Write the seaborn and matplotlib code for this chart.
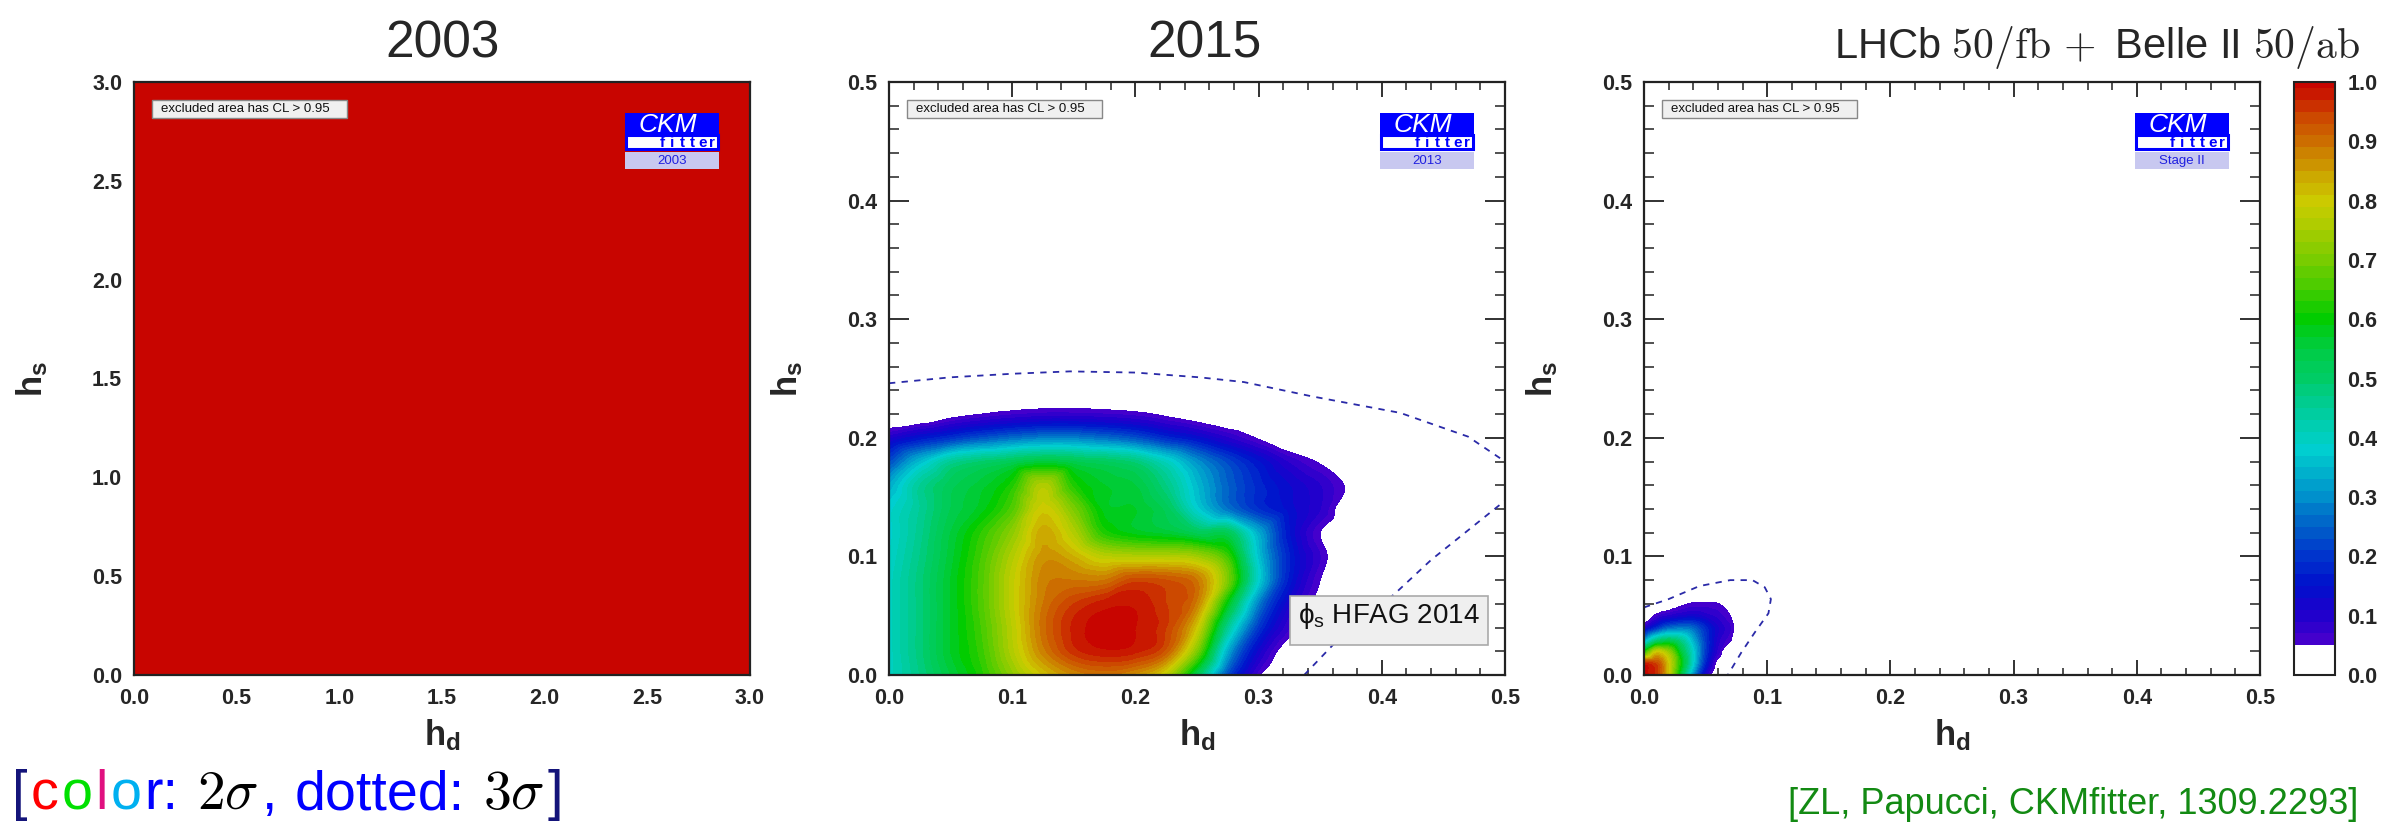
import numpy as np
import matplotlib
matplotlib.use("Agg")
import matplotlib.pyplot as plt
import matplotlib.tri as mtri
import seaborn as sns
from matplotlib.colors import LinearSegmentedColormap, ListedColormap, BoundaryNorm
from matplotlib.patches import Rectangle
from matplotlib.cm import ScalarMappable

# ---------------------------------------------------------------- data
titles = ["2003", "2015", r"LHCb $50/\mathrm{fb}\,+$ Belle II $50/\mathrm{ab}$"]
logo_labels = ["2003", "2013", "Stage II"]
legend_text = "excluded area has CL > 0.95"
hfag_text = "\u03d5${}_{\\mathrm{s}}$ HFAG 2014"
credit_text = "[ZL, Papucci, CKMfitter, 1309.2293]"

# panel 1 (2003): the whole plane is allowed (CL = 1)
hd_2003 = [0.0, 3.0]
hs_2003 = [0.0, 3.0]
cl_2003 = [[1.0, 1.0],
           [1.0, 1.0]]

# panel 2 (2015): CL read on a grid
hd_2015 = [0.0, 0.025, 0.05, 0.075, 0.1, 0.125, 0.15, 0.175, 0.2, 0.225,
           0.25, 0.275, 0.3, 0.325, 0.35, 0.375, 0.4]
hs_2015 = [0.0, 0.02, 0.04, 0.06, 0.08, 0.10, 0.12, 0.14, 0.16, 0.18,
           0.20, 0.22, 0.24]
cl_2015 = [
    [0.40, 0.47, 0.55, 0.62, 0.72, 0.81, 0.87, 0.89, 0.86, 0.77, 0.52, 0.22, 0.055, 0.00, 0.00, 0.00, 0.00],
    [0.40, 0.48, 0.57, 0.64, 0.76, 0.88, 0.96, 0.985, 0.975, 0.92, 0.70, 0.33, 0.12, 0.02, 0.00, 0.00, 0.00],
    [0.40, 0.48, 0.57, 0.65, 0.77, 0.90, 0.975, 1.00, 0.99, 0.95, 0.80, 0.45, 0.20, 0.07, 0.00, 0.00, 0.00],
    [0.40, 0.48, 0.57, 0.66, 0.78, 0.89, 0.95, 0.98, 0.985, 0.95, 0.88, 0.58, 0.28, 0.11, 0.03, 0.00, 0.00],
    [0.40, 0.48, 0.57, 0.66, 0.78, 0.88, 0.89, 0.89, 0.94, 0.93, 0.89, 0.70, 0.38, 0.16, 0.05, 0.00, 0.00],
    [0.39, 0.47, 0.56, 0.65, 0.76, 0.86, 0.83, 0.77, 0.76, 0.76, 0.74, 0.64, 0.36, 0.17, 0.07, 0.00, 0.00],
    [0.38, 0.46, 0.55, 0.63, 0.72, 0.84, 0.76, 0.62, 0.58, 0.56, 0.52, 0.52, 0.33, 0.15, 0.05, 0.00, 0.00],
    [0.38, 0.45, 0.53, 0.58, 0.66, 0.80, 0.70, 0.58, 0.57, 0.52, 0.38, 0.27, 0.19, 0.14, 0.09, 0.01, 0.00],
    [0.33, 0.45, 0.52, 0.56, 0.62, 0.76, 0.62, 0.57, 0.55, 0.47, 0.35, 0.25, 0.18, 0.13, 0.09, 0.04, 0.00],
    [0.22, 0.35, 0.45, 0.49, 0.52, 0.55, 0.53, 0.51, 0.48, 0.40, 0.30, 0.22, 0.15, 0.085, 0.045, 0.00, 0.00],
    [0.10, 0.15, 0.19, 0.23, 0.26, 0.28, 0.28, 0.26, 0.23, 0.18, 0.14, 0.09, 0.045, 0.00, 0.00, 0.00, 0.00],
    [0.00, 0.00, 0.03, 0.05, 0.065, 0.075, 0.075, 0.07, 0.06, 0.04, 0.02, 0.00, 0.00, 0.00, 0.00, 0.00, 0.00],
    [0.00, 0.00, 0.00, 0.00, 0.00, 0.00, 0.00, 0.00, 0.00, 0.00, 0.00, 0.00, 0.00, 0.00, 0.00, 0.00, 0.00],
]
# 3 sigma (dotted) contour of panel 2, two branches
sig3_2015_top_hd = [0.0, 0.05, 0.10, 0.147, 0.20, 0.252, 0.288, 0.343, 0.415, 0.47, 0.50]
sig3_2015_top_hs = [0.246, 0.251, 0.254, 0.256, 0.255, 0.251, 0.247, 0.235, 0.221, 0.201, 0.180]
sig3_2015_low_hd = [0.337, 0.36, 0.385, 0.41, 0.44, 0.47, 0.50]
sig3_2015_low_hs = [0.0, 0.025, 0.047, 0.068, 0.097, 0.122, 0.147]

# panel 3 (LHCb 50/fb + Belle II 50/ab): CL read on a grid
hd_future = [0.0, 0.01, 0.02, 0.03, 0.04, 0.05, 0.06, 0.07, 0.08, 0.09]
hs_future = [0.0, 0.01, 0.02, 0.03, 0.04, 0.05, 0.06, 0.07]
cl_future = [
    [1.00, 0.96, 0.80, 0.55, 0.30, 0.10, 0.00, 0.00, 0.00, 0.00],
    [0.97, 0.94, 0.80, 0.60, 0.38, 0.17, 0.03, 0.00, 0.00, 0.00],
    [0.60, 0.78, 0.72, 0.55, 0.38, 0.20, 0.08, 0.00, 0.00, 0.00],
    [0.30, 0.45, 0.50, 0.45, 0.33, 0.20, 0.10, 0.055, 0.00, 0.00],
    [0.09, 0.18, 0.25, 0.27, 0.25, 0.18, 0.11, 0.07, 0.00, 0.00],
    [0.00, 0.06, 0.09, 0.11, 0.12, 0.10, 0.08, 0.05, 0.00, 0.00],
    [0.00, 0.00, 0.02, 0.04, 0.055, 0.058, 0.052, 0.02, 0.00, 0.00],
    [0.00, 0.00, 0.00, 0.00, 0.00, 0.00, 0.00, 0.00, 0.00, 0.00],
]
sig3_future_hd = [0.0, 0.02, 0.045, 0.07, 0.088, 0.098, 0.103, 0.101, 0.09, 0.079, 0.068]
sig3_future_hs = [0.057, 0.064, 0.075, 0.080, 0.080, 0.074, 0.064, 0.052, 0.036, 0.019, 0.0]

cbar_ticks = [0.0, 0.1, 0.2, 0.3, 0.4, 0.5, 0.6, 0.7, 0.8, 0.9, 1.0]

# ---------------------------------------------------------------- style
sns.set_theme(style="ticks")
plt.rcParams["font.family"] = ["Liberation Sans", "DejaVu Sans"]
plt.rcParams["mathtext.fontset"] = "custom"
plt.rcParams["mathtext.rm"] = "Liberation Sans"
plt.rcParams["mathtext.it"] = "Liberation Sans:italic"
plt.rcParams["mathtext.bf"] = "Liberation Sans:bold"

# ROOT-like rainbow palette
anchor_vals = [0.05, 0.10, 0.15, 0.20, 0.25, 0.30, 0.35, 0.38, 0.45, 0.50, 0.55,
               0.60, 0.65, 0.70, 0.75, 0.80, 0.85, 0.90, 0.95, 1.00]
anchor_cols = ["#4a00cc", "#2000cc", "#0010cc", "#0035cc", "#0060c8", "#0090cc",
               "#00b8cc", "#00d0d0", "#00cc99", "#00cc66", "#00cc44", "#00cc00",
               "#44cc00", "#77cc00", "#a8cc00", "#cccc00", "#cca000", "#cc7000",
               "#cc4000", "#c80000"]
base = LinearSegmentedColormap.from_list(
    "rootrain", [((v - 0.05) / 0.95, c) for v, c in zip(anchor_vals, anchor_cols)])
fill_levels = list(np.round(np.arange(0.05, 0.9901, 0.02), 4)) + [1.0001]
bounds = [0.0] + fill_levels
mids = [(a + b) / 2 for a, b in zip(fill_levels[:-1], fill_levels[1:])]
band_cols = ["#ffffff"] + [base(min(1.0, (m - 0.05) / 0.95)) for m in mids]
cmap = ListedColormap(band_cols)
norm = BoundaryNorm(bounds, cmap.N)

DASH_COL = "#2a2aa8"
BLUE = "#0000ff"

W, H = 2401, 824
fig = plt.figure(figsize=(W / 100, H / 100), dpi=100)

def fx(px):
    return px / W

def fy(py):
    return 1 - py / H

ax_top, ax_bot = 82, 675
lefts = [134, 889, 1644]
pw = 616
axes = [fig.add_axes([fx(l), fy(ax_bot), pw / W, (ax_bot - ax_top) / H]) for l in lefts]


def smooth_fill(ax, xs, ys, z):
    """Filled CL contours of a grid, drawn on a refined triangulation."""
    X, Y = np.meshgrid(xs, ys)
    zf = np.asarray(z, dtype=float).ravel()
    tri = mtri.Triangulation(X.ravel(), Y.ravel())
    interp = mtri.CubicTriInterpolator(tri, zf, kind="geom")
    tri_r, z_r = mtri.UniformTriRefiner(tri).refine_field(zf, triinterpolator=interp, subdiv=3)
    z_r = np.clip(z_r, 0.0, 1.0)
    ax.tricontourf(tri_r, z_r, levels=fill_levels, cmap=cmap, norm=norm)


def style_axis(ax, lim, major, minor):
    ax.set_xlim(0, lim)
    ax.set_ylim(0, lim)
    ticks = np.round(np.arange(0, lim + 1e-9, major), 3)
    labs = ["%.1f" % t for t in ticks]
    ax.set_xticks(ticks, labs, fontweight="bold", fontsize=15.5)
    ax.set_yticks(ticks, labs, fontweight="bold", fontsize=15.5)
    ax.set_xticks(np.round(np.arange(0, lim + 1e-9, minor), 3), minor=True)
    ax.set_yticks(np.round(np.arange(0, lim + 1e-9, minor), 3), minor=True)
    ax.tick_params(axis="x", which="major", direction="in", length=10.8, width=1.3,
                   top=True, bottom=True, pad=9, color="#222222")
    ax.tick_params(axis="x", which="minor", direction="in", length=5.4, width=1.1,
                   top=True, bottom=True, color="#222222")
    ax.tick_params(axis="y", which="major", direction="in", length=14.4, width=1.3,
                   left=True, right=True, pad=8.5, color="#222222")
    ax.tick_params(axis="y", which="minor", direction="in", length=7.2, width=1.1,
                   left=True, right=True, color="#222222")
    for s in ax.spines.values():
        s.set_color("#222222")
        s.set_linewidth(1.6)
        s.set_zorder(10)
    ax.set_xlabel("")
    ax.set_ylabel("")


def draw_legend_box(ax):
    tr = ax.transAxes
    ax.add_patch(Rectangle((0.030, 0.939), 0.315, 0.031, transform=tr, fc="#f0f0f0",
                           ec="#888888", lw=1.0, zorder=6))
    ax.text(0.044, 0.9545, legend_text, transform=tr, fontsize=9.5, va="center",
            ha="left", color="#111111", zorder=7)


def draw_logo(ax, label):
    tr = ax.transAxes
    x0, x1 = 0.797, 0.950
    ax.add_patch(Rectangle((x0, 0.909), x1 - x0, 0.039, transform=tr, fc=BLUE,
                           ec="none", zorder=6))
    ax.add_patch(Rectangle((x0 + 0.002, 0.887), x1 - x0 - 0.004, 0.024, transform=tr,
                           fc="white", ec=BLUE, lw=2.2, zorder=6))
    ax.add_patch(Rectangle((x0, 0.853), x1 - x0, 0.029, transform=tr, fc="#c8c8f0",
                           ec="none", zorder=6))
    ax.text(0.866, 0.928, "CKM", transform=tr, color="white", fontstyle="italic",
            fontsize=19, ha="center", va="center", zorder=7)
    for i, ch in enumerate("fitter"):
        ax.text(0.858 + i * 0.0162, 0.8975, ch, transform=tr, color=BLUE,
                fontweight="bold", fontsize=11, ha="center", va="center", zorder=7)
    ax.text(0.873, 0.867, label, transform=tr, color="#2020e0", fontsize=9.5,
            ha="center", va="center", zorder=7)


# ---- panel 1
ax = axes[0]
ax.pcolormesh(hd_2003, hs_2003, np.array(cl_2003), cmap=cmap, norm=norm, shading="nearest")
style_axis(ax, 3.0, 0.5, 0.1)

# ---- panel 2
ax = axes[1]
smooth_fill(ax, hd_2015, hs_2015, cl_2015)
for xs, ys in [(sig3_2015_top_hd, sig3_2015_top_hs), (sig3_2015_low_hd, sig3_2015_low_hs)]:
    sns.lineplot(x=xs, y=ys, sort=False, estimator=None, ax=ax, color=DASH_COL,
                 lw=1.3, linestyle=(0, (3.5, 3.5)))
style_axis(ax, 0.5, 0.1, 0.02)
ax.add_patch(Rectangle((0.651, 0.05), 0.321, 0.083, transform=ax.transAxes,
                       fc="#efefef", ec="#aaaaaa", lw=1.2, zorder=6))
ax.text(0.664, 0.088, hfag_text, transform=ax.transAxes, fontsize=20, va="baseline",
        ha="left", color="#111111", zorder=7)

# ---- panel 3
ax = axes[2]
smooth_fill(ax, hd_future, hs_future, cl_future)
sns.lineplot(x=sig3_future_hd, y=sig3_future_hs, sort=False, estimator=None, ax=ax,
             color=DASH_COL, lw=1.3, linestyle=(0, (3.5, 3.5)))
style_axis(ax, 0.5, 0.1, 0.02)

for ax, lab in zip(axes, logo_labels):
    draw_legend_box(ax)
    draw_logo(ax, lab)

# ---- colorbar
cax = fig.add_axes([fx(2294), fy(ax_bot), 41 / W, (ax_bot - ax_top) / H])
cb = fig.colorbar(ScalarMappable(norm=norm, cmap=cmap), cax=cax, boundaries=bounds,
                  spacing="proportional", ticks=cbar_ticks)
cb.outline.set_linewidth(1.5)
cb.outline.set_edgecolor("#222222")
cax.set_ylim(0, 1.0001)
cax.yaxis.set_ticks_position("right")
cax.tick_params(axis="y", direction="in", length=20, width=1.3, pad=9, color="#222222")
cax.set_yticks(cbar_ticks, ["%.1f" % t for t in cbar_ticks], fontweight="bold", fontsize=15.5)
cax.minorticks_off()

# ---- titles and axis labels
fig.text(fx(443), fy(58), titles[0], fontsize=37, ha="center", va="baseline")
fig.text(fx(1205), fy(58), titles[1], fontsize=37, ha="center", va="baseline")
fig.text(fx(2360), fy(58), titles[2], fontsize=30, ha="right", va="baseline",
         math_fontfamily="cm")
for l in lefts:
    fig.text(fx(l + pw / 2), fy(745), r"$\mathbf{h}_{\mathbf{d}}$", fontsize=25,
             ha="center", va="baseline")
    fig.text(fx(l - 102), fy((ax_top + ax_bot) / 2), r"$\mathbf{h}_{\mathbf{s}}$",
             fontsize=25, ha="center", va="center", rotation=90)

# ---- bottom annotations
fig.text(fx(2358), fy(814), credit_text, fontsize=26, ha="right", va="baseline",
         color="#138a13")

fig.canvas.draw()
renderer = fig.canvas.get_renderer()
pieces = [("[", "#14147a"), ("c", "#ff0000"), ("o", "#00e000"), ("l", "#e0107f"),
          ("o", "#00b0f0"), ("r:", BLUE), (" ", None), (r"$2\sigma$", "black"),
          (",", BLUE), (" ", None), ("dotted:", BLUE), (" ", None), (r"$3\sigma$", "black"),
          ("]", "#14147a")]
FS = 40
probe1 = fig.text(0, 0, "a a", fontsize=FS)
probe2 = fig.text(0, 0, "aa", fontsize=FS)
space_w = probe1.get_window_extent(renderer).width - probe2.get_window_extent(renderer).width
probe1.remove()
probe2.remove()
x = 12.0
for s, c in pieces:
    if c is None:
        x += space_w
        continue
    t = fig.text(fx(x), fy(809), s, fontsize=FS, color=c, ha="left", va="baseline",
                 math_fontfamily="cm")
    bb = t.get_window_extent(renderer)
    x = bb.x1 + 3

fig.savefig("out.png", dpi=100)
